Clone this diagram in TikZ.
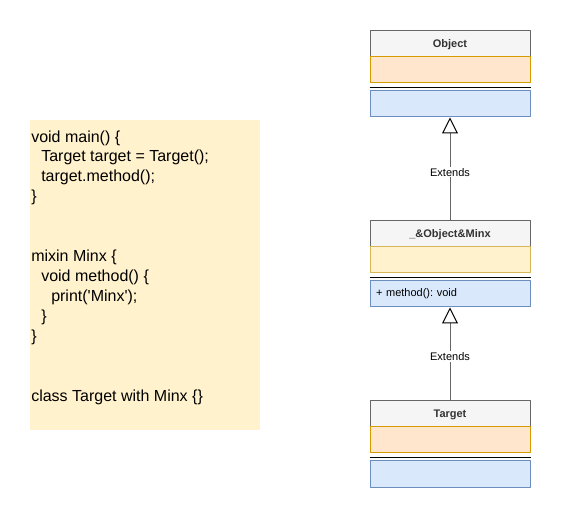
\documentclass[tikz,border=0pt]{standalone}
\usepackage{fontspec}
\setmainfont{Liberation Sans}
\usetikzlibrary{arrows.meta,positioning,calc}
\definecolor{HeadFill}{HTML}{F5F5F5}
\definecolor{HeadLine}{HTML}{666666}
\definecolor{HeadText}{HTML}{333333}
\definecolor{AttrFill}{HTML}{FFE6CC}
\definecolor{AttrLine}{HTML}{D79B00}
\definecolor{MixFill}{HTML}{FFF2CC}
\definecolor{MixLine}{HTML}{D6B656}
\definecolor{OpFill}{HTML}{DAE8FC}
\definecolor{OpLine}{HTML}{6C8EBF}
\newcommand{\ind}{\hspace*{7.5pt}}
\frenchspacing
\tikzset{
  head/.style={draw=HeadLine,fill=HeadFill,line width=0.75pt,minimum width=120pt,minimum height=19.5pt,inner sep=0pt,text height=5.9pt,text depth=0pt,font=\fontsize{8.25}{10}\selectfont\bfseries,text=HeadText},
  attr/.style={draw=AttrLine,fill=AttrFill,line width=0.75pt,minimum width=120pt,minimum height=19.5pt,inner sep=0pt},
  mixattr/.style={attr,draw=MixLine,fill=MixFill},
  ops/.style={draw=OpLine,fill=OpFill,line width=0.75pt,minimum height=19.5pt,text width=111pt,inner xsep=4.5pt,inner ysep=0pt,align=left,font=\fontsize{8.25}{10}\selectfont},
  sep/.style={draw=black,line width=0.75pt},
  ext/.style={draw=HeadLine,line width=0.75pt,-{Triangle[length=12pt,width=12pt,color=black,fill=white,line width=0.75pt]}},
  lbl/.style={fill=white,inner sep=1pt,font=\fontsize{8.25}{10}\selectfont},
  codebox/.style={fill=MixFill,minimum width=172.5pt,minimum height=232.5pt,inner sep=0pt},
  codetxt/.style={align=left,inner sep=0pt,font=\fontsize{12}{15}\selectfont},
}

\begin{document}
\begin{tikzpicture}[x=0.75pt,y=-0.75pt,line join=round]
\useasboundingbox (0,0) rectangle (561,520);
% listing on the left
\node[codebox] (codebg) at (145,275) {};
\node[codetxt,anchor=base west] (code) at (31,402) {void main() \{\\
\ind Target target = Target();\\
\ind target.method();\\
\}\\[30pt]
mixin Minx \{\\
\ind void method() \{\\
\ind\ind print(\textquotesingle Minx\textquotesingle);\\
\ind \}\\
\}\\[30pt]
class Target with Minx \{\}};

% Object
\node[head] (objH) at (450,44) {Object};
\node[attr] (objA) at (450,70) {};
\node[ops] (objM) at (450,104) {};
\draw[sep] ($(objA.south west)+(0,4)$) -- ($(objA.south east)+(0,4)$);

% _&Object&Minx
\node[head] (mixH) at (450,234) {\_\&Object\&Minx};
\node[mixattr] (mixA) at (450,260) {};
\node[ops] (mixM) at (450,294) {+ method(): void};
\draw[sep] ($(mixA.south west)+(0,4)$) -- ($(mixA.south east)+(0,4)$);

% Target
\node[head] (tgtH) at (450,414) {Target};
\node[attr] (tgtA) at (450,440) {};
\node[ops] (tgtM) at (450,474) {};
\draw[sep] ($(tgtA.south west)+(0,4)$) -- ($(tgtA.south east)+(0,4)$);

\draw[ext] (mixH) -- node[lbl,pos=.47] (ext1) {Extends} (objM);
\draw[ext] (tgtH) -- node[lbl,pos=.47] (ext2) {Extends} (mixM);
\end{tikzpicture}
\end{document}
